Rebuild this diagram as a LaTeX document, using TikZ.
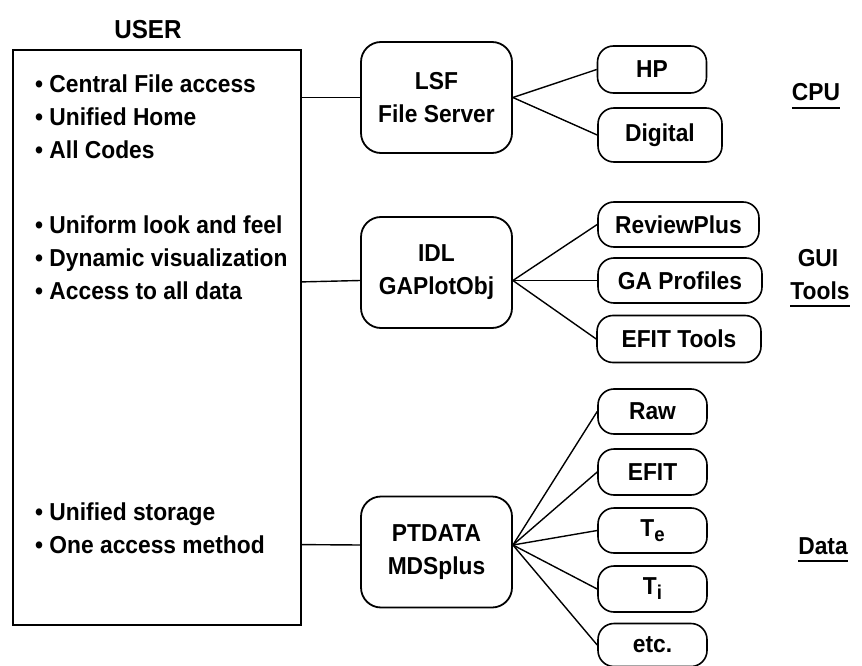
\documentclass[tikz,border=0pt]{standalone}
\usepackage{fontspec}
\setmainfont{Liberation Sans}[FakeStretch=0.93]
\usetikzlibrary{shapes,arrows}
\newcommand{\bigbold}{\bfseries\fontsize{24.5}{33}\selectfont}
\newcommand{\lowsub}[1]{\raisebox{-0.38ex}{\fontsize{20}{20}\selectfont #1}}
\tikzstyle{userbox} = [draw, line width=1.8pt, rectangle, inner sep=0pt,
    minimum width=288pt, minimum height=575pt]
\tikzstyle{block} = [draw, line width=1.8pt, rectangle, rounded corners=20pt,
    minimum width=151pt, minimum height=111pt, align=center, font=\bigbold]
\tikzstyle{leaf} = [draw, line width=1.6pt, rectangle, rounded corners=16pt,
    minimum width=109pt, minimum height=45pt, inner sep=2pt, font=\bigbold]
\tikzstyle{item} = [anchor=base west, inner sep=0pt, font=\bigbold]
\tikzstyle{group} = [anchor=base, inner sep=0pt, font=\bigbold]
\tikzstyle{wire} = [line width=1.4pt]

\begin{document}
\begin{tikzpicture}[x=1pt, y=-1pt]
          \useasboundingbox (0,0) rectangle (862,666);

          % The user side
          \node [group, font=\bfseries\fontsize{26}{26}\selectfont] (usertitle) at (148,39) {USER};
          \node [userbox] (user) at (157,337.5) {};
          \node [item] (i1) at (35,93) {\textbullet\ Central File access};
          \node [item] (i2) at (35,126) {\textbullet\ Unified Home};
          \node [item] (i3) at (35,159) {\textbullet\ All Codes};
          \node [item] (i4) at (35,233) {\textbullet\ Uniform look and feel};
          \node [item] (i5) at (35,266) {\textbullet\ Dynamic visualization};
          \node [item] (i6) at (35,299) {\textbullet\ Access to all data};
          \node [item] (i7) at (35,520) {\textbullet\ Unified storage};
          \node [item] (i8) at (35,553) {\textbullet\ One access method};

          % Place the blocks
          \node [block] (lsf) at (436.5,97.5) {LSF\\File Server};
          \node [block] (idl) at (436.5,272.5) {IDL\\GAPlotObj};
          \node [block] (ptdata) at (436.5,552) {PTDATA\\MDSplus};

          % Leaves
          \node [leaf, minimum height=47pt] (hp) at (652,69.5) {HP};
          \node [leaf, minimum width=124pt, minimum height=54pt] (digital) at (660,135) {Digital};
          \node [leaf, minimum width=161pt] (review) at (678.5,224.5) {ReviewPlus};
          \node [leaf, minimum width=164pt] (gaprof) at (680,280.5) {GA Profiles};
          \node [leaf, minimum width=164pt, minimum height=47pt] (efittools) at (679,339) {EFIT Tools};
          \node [leaf] (raw) at (652.5,411.5) {Raw};
          \node [leaf, minimum height=46pt] (efit) at (652.5,472) {EFIT};
          \node [leaf] (te) at (652.5,530.5) {T\lowsub{e}};
          \node [leaf, minimum height=46pt] (ti) at (652.5,589) {T\lowsub{i}};
          \node [leaf, minimum height=43pt] (etc) at (652.5,645) {etc.};

          % Categories
          \node [group] (cpu) at (816,101) {CPU};
          \node [group] (gui) at (818,266) {GUI};
          \node [group] (tools) at (820,299) {Tools};
          \node [group] (data) at (823,554) {Data};
          \draw [line width=1.4pt] ([yshift=-7pt]cpu.base west) -- ([yshift=-7pt]cpu.base east);
          \draw [line width=1.4pt] ([yshift=-7pt]tools.base west) -- ([yshift=-7pt]tools.base east);
          \draw [line width=1.4pt] ([yshift=-7pt]data.base west) -- ([yshift=-7pt]data.base east);

          % Connections
          \draw [wire] (user.east |- lsf) -- (lsf.west);
          \draw [wire] (user.east |- idl.south) ++(0,-47) -- ([yshift=-8pt]idl.west);
          \draw [wire] (user.east |- ptdata.north) ++(0,49) -- ([yshift=7pt]ptdata.west);
          \draw [wire] (lsf.east) -- (hp.west);
          \draw [wire] (lsf.east) -- (digital.west);
          \draw [wire] ([yshift=-8pt]idl.east) -- (review.west);
          \draw [wire] ([yshift=-8pt]idl.east) -- (gaprof.west);
          \draw [wire] ([yshift=-8pt]idl.east) -- (efittools.west);
          \foreach \d in {raw,efit,te,ti,etc}
              \draw [wire] ([yshift=7pt]ptdata.east) -- (\d.west);
      \end{tikzpicture}
\end{document}
